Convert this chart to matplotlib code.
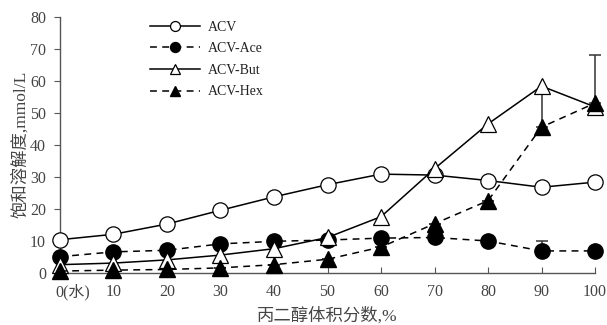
import matplotlib
matplotlib.use("Agg")
import matplotlib.pyplot as plt
import matplotlib.transforms as mtrans

x = [0, 10, 20, 30, 40, 50, 60, 70, 80, 90, 100]
xticklabels = ["0(水)", "10", "20", "30", "40", "50", "60", "70", "80", "90", "100"]
acv = [10.3, 12.0, 15.2, 19.5, 23.7, 27.5, 30.8, 30.5, 28.8, 26.7, 28.3]
acv_ace = [5.0, 6.5, 7.0, 9.0, 9.8, 10.2, 10.8, 11.0, 9.9, 6.8, 6.8]
acv_but = [2.5, 3.0, 4.0, 5.5, 7.5, 11.0, 17.5, 32.5, 46.5, 58.3, 51.8]
acv_hex = [0.5, 0.8, 1.0, 1.5, 2.5, 4.2, 8.0, 15.3, 22.5, 45.5, 53.0]
ace_err = [0, 0, 0, 0, 0, 0, 0, 0, 0, 3.0, 0]
hex_err = [0, 0, 0, 0, 0, 0, 0, 0, 0, 10.5, 15.0]
labels = ["ACV", "ACV-Ace", "ACV-But", "ACV-Hex"]

serif = ["Liberation Serif", "Noto Sans CJK SC"]
tc = "#444444"

fig = plt.figure(figsize=(6.07, 3.25), dpi=100)
ax = fig.add_axes([0.0988, 0.161, 0.8815, 0.7876])

ms = 11
lw = 1.1
dash = (0, (4.5, 3.5))

ax.errorbar(x, acv_hex, yerr=[[0]*len(x), hex_err], fmt="none", ecolor="#333333",
            elinewidth=1.1, capsize=4, capthick=1.1, zorder=1, clip_on=False)
ax.errorbar(x, acv_ace, yerr=[[0]*len(x), ace_err], fmt="none", ecolor="#333333",
            elinewidth=1.1, capsize=4, capthick=1.1, zorder=1, clip_on=False)

ax.plot(x, acv, color="black", lw=lw, marker="o", ms=ms, mfc="white", mec="black",
        mew=0.9, label=labels[0], clip_on=False, zorder=3)
ax.plot(x, acv_ace, color="black", lw=lw, ls=dash, marker="o", ms=ms, mfc="black",
        mec="black", label=labels[1], clip_on=False, zorder=4)
ax.plot(x, acv_but, color="black", lw=lw, marker="^", ms=ms + 1, mfc="white", mec="black",
        mew=0.9, label=labels[2], clip_on=False, zorder=5)
ax.plot(x, acv_hex, color="black", lw=lw, ls=dash, marker="^", ms=ms + 1, mfc="black",
        mec="black", label=labels[3], clip_on=False, zorder=6)

ax.set_xlim(0, 100)
ax.set_ylim(0, 80)
ax.set_xticks(x)
ax.set_xticklabels(xticklabels, family=serif, fontsize=11.5, color=tc)
ax.set_yticks(range(0, 81, 10))
ax.set_yticklabels([str(v) for v in range(0, 81, 10)], family=serif, fontsize=11.5, color=tc)
for s in ["top", "right"]:
    ax.spines[s].set_visible(False)
for s in ["left", "bottom"]:
    ax.spines[s].set_color("#555555")
    ax.spines[s].set_linewidth(1.0)
ax.tick_params(axis="y", direction="out", length=4, color="#555555", pad=6)
ax.tick_params(axis="x", direction="in", length=4, color="#555555", pad=8)

# first x tick label: "0" sits on the tick
first = ax.get_xticklabels()[0]
first.set_horizontalalignment("left")
first.set_transform(first.get_transform() + mtrans.ScaledTranslation(-4.5 / 100, 0, fig.dpi_scale_trans))

ax.set_xlabel("丙二醇体积分数,%", family=serif, fontsize=12.5, color=tc, labelpad=5)
ax.set_ylabel("饱和溶解度,mmol/L", family=serif, fontsize=12.5, color=tc, labelpad=1)

leg = ax.legend(loc="upper left", bbox_to_anchor=(0.168, 0.985), frameon=False,
                prop={"family": "Liberation Serif", "size": 10}, handlelength=3.6,
                handletextpad=0.6, labelspacing=0.62, borderpad=0, borderaxespad=0,
                markerscale=0.65)
for t in leg.get_texts():
    t.set_color("#222222")

fig.savefig("out.png", dpi=100)
